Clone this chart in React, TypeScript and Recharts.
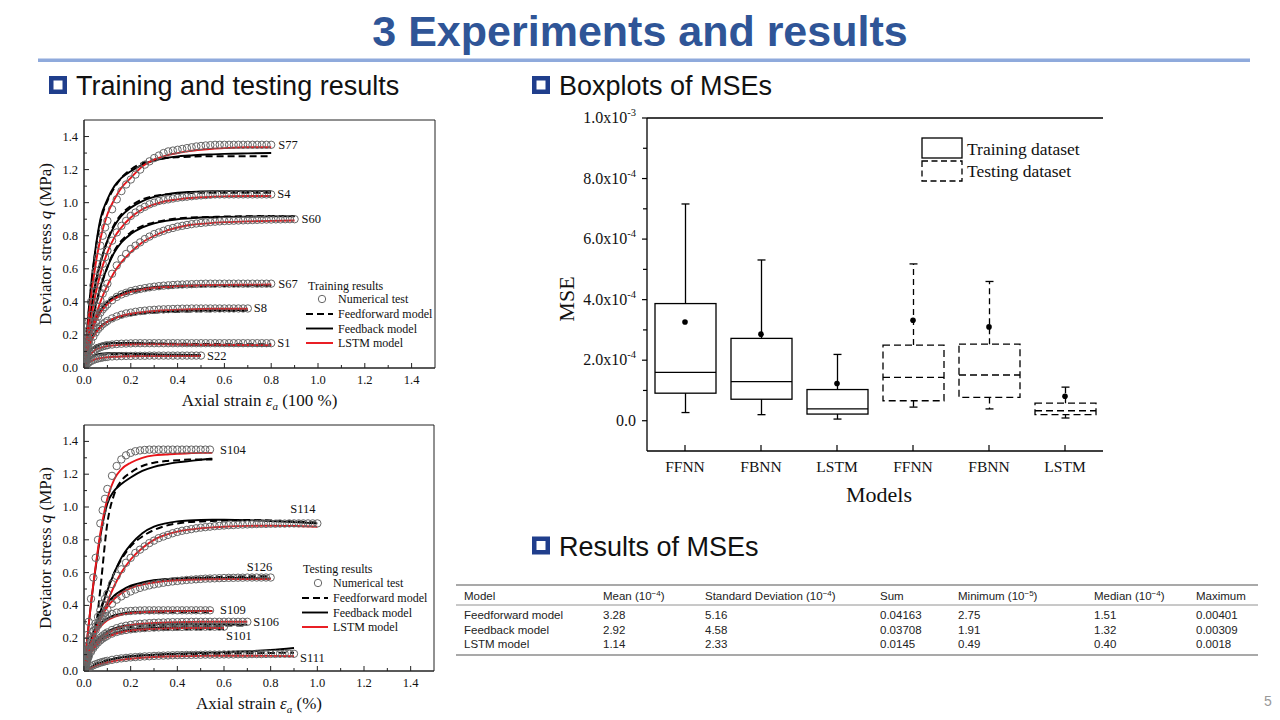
import React from 'react';
import { ComposedChart, Line, Scatter, Bar, XAxis, YAxis, ReferenceArea, ReferenceLine } from 'recharts';

const SERIF = "'Liberation Serif', 'Times New Roman', serif";
const SANS = "'Liberation Sans', Arial, sans-serif";

// ---------- strain grids ----------
const testStrain = [0, 0.005, 0.01, 0.015, 0.02, 0.03, 0.04, 0.05, 0.06, 0.07, 0.08, 0.09, 0.1, 0.12, 0.14, 0.16, 0.18, 0.2,
  0.22, 0.24, 0.26, 0.28, 0.3, 0.32, 0.34, 0.36, 0.38, 0.4, 0.42, 0.44, 0.46, 0.48, 0.5, 0.52, 0.54, 0.56, 0.58, 0.6,
  0.62, 0.64, 0.66, 0.68, 0.7, 0.72, 0.74, 0.76, 0.78, 0.8, 0.82, 0.84, 0.86, 0.88, 0.9, 0.92, 0.94, 0.96, 0.98, 1.0];
const lineStrain = [0, 0.01, 0.02, 0.03, 0.05, 0.07, 0.1, 0.13, 0.16, 0.2, 0.25, 0.3, 0.35, 0.4, 0.45, 0.5, 0.55, 0.6, 0.7, 0.8, 0.9, 1.0];

// ---------- training results ----------
const s77Test = [0, 0.07, 0.14, 0.21, 0.28, 0.40, 0.50, 0.59, 0.67, 0.74, 0.80, 0.85, 0.89, 0.96, 1.02, 1.07, 1.11, 1.14, 1.17, 1.20, 1.23, 1.25, 1.27, 1.285, 1.30, 1.31, 1.315, 1.32, 1.325, 1.33, 1.335, 1.34, 1.343, 1.346, 1.348, 1.35, 1.35, 1.35, 1.35, 1.35, 1.35, 1.35, 1.35, 1.35, 1.35, 1.35, 1.35, 1.35];
const s77FF = [0, 0.17, 0.33, 0.48, 0.72, 0.88, 1.01, 1.09, 1.15, 1.2, 1.24, 1.26, 1.27, 1.275, 1.278, 1.28, 1.28, 1.28, 1.28, 1.28];
const s77FB = [0, 0.18, 0.35, 0.5, 0.73, 0.9, 1.02, 1.1, 1.15, 1.19, 1.23, 1.255, 1.27, 1.28, 1.285, 1.29, 1.292, 1.295, 1.298, 1.30];
const s77LSTM = [0, 0.15, 0.3, 0.43, 0.63, 0.78, 0.93, 1.02, 1.09, 1.15, 1.22, 1.26, 1.285, 1.30, 1.312, 1.32, 1.326, 1.33, 1.335, 1.335];

const s4Test = [0, 0.06, 0.12, 0.18, 0.23, 0.32, 0.40, 0.47, 0.53, 0.58, 0.63, 0.67, 0.71, 0.77, 0.82, 0.86, 0.89, 0.92, 0.94, 0.96, 0.975, 0.99, 1.00, 1.01, 1.015, 1.02, 1.025, 1.03, 1.033, 1.036, 1.039, 1.042, 1.044, 1.046, 1.048, 1.05, 1.05, 1.05, 1.05, 1.05, 1.05, 1.05, 1.05, 1.05, 1.05, 1.05, 1.05, 1.05];
const s4FF = [0, 0.12, 0.24, 0.34, 0.51, 0.63, 0.77, 0.87, 0.93, 0.98, 1.02, 1.04, 1.05, 1.055, 1.058, 1.06, 1.06, 1.06, 1.06, 1.06];
const s4FB = [0, 0.13, 0.25, 0.35, 0.52, 0.64, 0.77, 0.86, 0.92, 0.97, 1.01, 1.035, 1.05, 1.06, 1.065, 1.068, 1.07, 1.07, 1.07, 1.07];
const s4LSTM = [0, 0.11, 0.21, 0.30, 0.45, 0.57, 0.70, 0.79, 0.85, 0.91, 0.96, 0.99, 1.01, 1.02, 1.028, 1.033, 1.036, 1.038, 1.04, 1.04];

const s60Test = [0, 0.04, 0.08, 0.12, 0.15, 0.21, 0.27, 0.32, 0.37, 0.41, 0.45, 0.48, 0.51, 0.57, 0.62, 0.66, 0.69, 0.72, 0.74, 0.76, 0.78, 0.795, 0.81, 0.82, 0.83, 0.84, 0.847, 0.855, 0.86, 0.865, 0.87, 0.874, 0.877, 0.88, 0.883, 0.885, 0.887, 0.889, 0.89, 0.891, 0.892, 0.893, 0.894, 0.895, 0.896, 0.897, 0.898, 0.898, 0.899, 0.899, 0.9, 0.9, 0.9];
const s60FF = [0, 0.08, 0.16, 0.24, 0.37, 0.48, 0.61, 0.71, 0.77, 0.82, 0.86, 0.88, 0.895, 0.905, 0.91, 0.912, 0.914, 0.916, 0.918, 0.92, 0.92];
const s60FB = [0, 0.09, 0.17, 0.25, 0.38, 0.49, 0.61, 0.70, 0.76, 0.81, 0.85, 0.875, 0.89, 0.9, 0.905, 0.91, 0.912, 0.914, 0.916, 0.917, 0.918];
const s60LSTM = [0, 0.07, 0.14, 0.2, 0.31, 0.4, 0.5, 0.58, 0.64, 0.7, 0.76, 0.8, 0.83, 0.85, 0.865, 0.872, 0.878, 0.882, 0.887, 0.89, 0.892];

const s67Test = [0, 0.05, 0.09, 0.13, 0.16, 0.21, 0.25, 0.28, 0.31, 0.335, 0.355, 0.37, 0.385, 0.41, 0.43, 0.445, 0.455, 0.465, 0.472, 0.478, 0.483, 0.488, 0.492, 0.495, 0.498, 0.50, 0.502, 0.504, 0.505, 0.506, 0.507, 0.508, 0.509, 0.51, 0.51, 0.51, 0.51, 0.51, 0.51, 0.51, 0.51, 0.51, 0.51, 0.51, 0.51, 0.51, 0.51, 0.51];
const s67FF = [0, 0.09, 0.16, 0.21, 0.29, 0.34, 0.39, 0.42, 0.44, 0.455, 0.47, 0.48, 0.485, 0.49, 0.492, 0.494, 0.495, 0.496, 0.497, 0.497];
const s67FB = [0, 0.1, 0.17, 0.22, 0.3, 0.35, 0.4, 0.43, 0.45, 0.47, 0.48, 0.49, 0.495, 0.498, 0.5, 0.5, 0.5, 0.5, 0.5, 0.5];
const s67LSTM = [0, 0.09, 0.16, 0.21, 0.28, 0.335, 0.385, 0.42, 0.44, 0.46, 0.475, 0.485, 0.49, 0.495, 0.498, 0.5, 0.502, 0.503, 0.504, 0.505];

const s8Test = [0, 0.04, 0.07, 0.1, 0.12, 0.16, 0.19, 0.215, 0.235, 0.25, 0.265, 0.275, 0.285, 0.30, 0.312, 0.322, 0.33, 0.335, 0.34, 0.344, 0.347, 0.35, 0.352, 0.354, 0.355, 0.356, 0.357, 0.358, 0.359, 0.359, 0.36, 0.36, 0.36, 0.36, 0.36, 0.36, 0.36, 0.36, 0.36, 0.36, 0.36, 0.36, 0.36];
const s8FF = [0, 0.08, 0.13, 0.17, 0.22, 0.25, 0.28, 0.295, 0.31, 0.32, 0.33, 0.335, 0.338, 0.34, 0.342, 0.343, 0.344, 0.345, 0.345];
const s8FB = [0, 0.08, 0.13, 0.17, 0.22, 0.25, 0.28, 0.3, 0.315, 0.325, 0.335, 0.34, 0.343, 0.345, 0.347, 0.348, 0.349, 0.35, 0.35];
const s8LSTM = [0, 0.07, 0.12, 0.16, 0.21, 0.245, 0.28, 0.3, 0.315, 0.328, 0.338, 0.345, 0.35, 0.353, 0.355, 0.357, 0.358, 0.358, 0.358];

const s1Test = [0, 0.025, 0.045, 0.06, 0.072, 0.09, 0.103, 0.112, 0.12, 0.126, 0.131, 0.135, 0.138, 0.142, 0.145, 0.147, 0.148, 0.149, 0.15, 0.15, 0.15, 0.15, 0.15, 0.15, 0.15, 0.15, 0.15, 0.15, 0.15, 0.15, 0.15, 0.15, 0.15, 0.15, 0.15, 0.15, 0.15, 0.15, 0.15, 0.15, 0.15, 0.15, 0.15, 0.15, 0.15, 0.15, 0.15, 0.15];
const s1FF = [0, 0.045, 0.08, 0.1, 0.125, 0.138, 0.146, 0.15, 0.151, 0.151, 0.15, 0.149, 0.148, 0.147, 0.146, 0.145, 0.145, 0.144, 0.144, 0.143];
const s1FB = [0, 0.05, 0.085, 0.11, 0.135, 0.145, 0.15, 0.152, 0.152, 0.151, 0.149, 0.147, 0.145, 0.143, 0.141, 0.14, 0.139, 0.138, 0.136, 0.134];
const s1LSTM = [0, 0.035, 0.065, 0.085, 0.11, 0.122, 0.132, 0.137, 0.14, 0.142, 0.143, 0.143, 0.143, 0.142, 0.142, 0.141, 0.141, 0.14, 0.139, 0.138];

const s22Test = [0, 0.012, 0.02, 0.027, 0.033, 0.042, 0.049, 0.054, 0.058, 0.061, 0.064, 0.066, 0.067, 0.07, 0.071, 0.072, 0.073, 0.073, 0.074, 0.074, 0.074, 0.075, 0.075, 0.075, 0.075, 0.075, 0.075, 0.075, 0.075, 0.075, 0.075, 0.075, 0.075];
const s22FF = [0, 0.03, 0.05, 0.062, 0.075, 0.08, 0.083, 0.083, 0.082, 0.08, 0.079, 0.078, 0.077, 0.077, 0.076, 0.076];
const s22FB = [0, 0.03, 0.05, 0.065, 0.08, 0.086, 0.09, 0.09, 0.089, 0.087, 0.085, 0.083, 0.081, 0.08, 0.079, 0.078];
const s22LSTM = [0, 0.02, 0.033, 0.042, 0.054, 0.06, 0.065, 0.068, 0.07, 0.071, 0.072, 0.072, 0.072, 0.072, 0.072, 0.072];

// ---------- testing results ----------
const s104Test = [0, 0.08, 0.15, 0.22, 0.3, 0.44, 0.57, 0.69, 0.8, 0.9, 0.98, 1.05, 1.11, 1.19, 1.25, 1.29, 1.315, 1.33, 1.34, 1.345, 1.348, 1.35, 1.35, 1.35, 1.35, 1.35, 1.35, 1.35, 1.35, 1.35, 1.35, 1.35, 1.35, 1.35, 1.35];
const s104FF = [0, 0.02, 0.05, 0.09, 0.25, 0.5, 0.9, 1.08, 1.16, 1.21, 1.25, 1.27, 1.28, 1.285, 1.29, 1.29, 1.29];
const s104FB = [0, 0.14, 0.28, 0.41, 0.63, 0.82, 1.02, 1.1, 1.14, 1.18, 1.22, 1.245, 1.26, 1.272, 1.28, 1.288, 1.295];
const s104LSTM = [0, 0.14, 0.28, 0.41, 0.64, 0.84, 1.05, 1.17, 1.23, 1.27, 1.3, 1.315, 1.32, 1.325, 1.328, 1.33, 1.33];

const s114Test = [0, 0.035, 0.07, 0.1, 0.13, 0.19, 0.24, 0.29, 0.33, 0.37, 0.41, 0.44, 0.47, 0.53, 0.58, 0.62, 0.66, 0.69, 0.72, 0.74, 0.76, 0.78, 0.795, 0.81, 0.82, 0.83, 0.84, 0.848, 0.855, 0.86, 0.865, 0.87, 0.874, 0.877, 0.88, 0.883, 0.885, 0.887, 0.889, 0.89, 0.892, 0.893, 0.894, 0.895, 0.896, 0.897, 0.897, 0.898, 0.898, 0.899, 0.899, 0.9, 0.9, 0.9, 0.9, 0.9, 0.9, 0.9];
const s114FF = [0, 0.06, 0.12, 0.17, 0.28, 0.37, 0.5, 0.6, 0.68, 0.76, 0.82, 0.86, 0.885, 0.9, 0.908, 0.912, 0.915, 0.917, 0.92, 0.918, 0.912, 0.905];
const s114FB = [0, 0.06, 0.12, 0.17, 0.27, 0.36, 0.49, 0.6, 0.69, 0.77, 0.84, 0.88, 0.9, 0.912, 0.918, 0.921, 0.922, 0.922, 0.92, 0.915, 0.908, 0.90];
const s114LSTM = [0, 0.05, 0.1, 0.14, 0.23, 0.31, 0.42, 0.52, 0.6, 0.68, 0.75, 0.8, 0.83, 0.85, 0.862, 0.87, 0.876, 0.88, 0.885, 0.886, 0.884, 0.88];

const s126Test = [0, 0.03, 0.06, 0.09, 0.12, 0.17, 0.21, 0.25, 0.28, 0.31, 0.335, 0.355, 0.375, 0.41, 0.435, 0.455, 0.47, 0.485, 0.497, 0.507, 0.515, 0.522, 0.528, 0.533, 0.538, 0.542, 0.546, 0.549, 0.552, 0.555, 0.557, 0.559, 0.561, 0.563, 0.564, 0.565, 0.566, 0.567, 0.568, 0.568, 0.569, 0.569, 0.57, 0.57, 0.57, 0.57, 0.57, 0.57];
const s126FF = [0, 0.07, 0.13, 0.18, 0.27, 0.34, 0.41, 0.455, 0.485, 0.515, 0.535, 0.55, 0.558, 0.563, 0.567, 0.57, 0.572, 0.574, 0.577, 0.578];
const s126FB = [0, 0.07, 0.13, 0.18, 0.27, 0.34, 0.41, 0.46, 0.49, 0.52, 0.54, 0.553, 0.56, 0.564, 0.566, 0.567, 0.568, 0.568, 0.567, 0.565];
const s126LSTM = [0, 0.06, 0.12, 0.17, 0.25, 0.32, 0.39, 0.44, 0.475, 0.505, 0.527, 0.54, 0.548, 0.553, 0.556, 0.558, 0.559, 0.56, 0.56, 0.56];

const s109Test = [0, 0.05, 0.09, 0.13, 0.16, 0.21, 0.245, 0.27, 0.29, 0.305, 0.318, 0.328, 0.336, 0.348, 0.356, 0.361, 0.364, 0.366, 0.368, 0.369, 0.37, 0.37, 0.37, 0.37, 0.37, 0.37, 0.37, 0.37, 0.37, 0.37, 0.37, 0.37, 0.37, 0.37, 0.37];
const s109FF = [0, 0.08, 0.14, 0.18, 0.24, 0.28, 0.315, 0.335, 0.345, 0.352, 0.355, 0.357, 0.358, 0.359, 0.36, 0.36, 0.36];
const s109FB = [0, 0.08, 0.14, 0.19, 0.25, 0.29, 0.32, 0.34, 0.35, 0.358, 0.362, 0.364, 0.365, 0.366, 0.366, 0.366, 0.366];
const s109LSTM = [0, 0.07, 0.13, 0.17, 0.23, 0.27, 0.31, 0.33, 0.343, 0.353, 0.359, 0.362, 0.364, 0.365, 0.365, 0.365, 0.365];

const s106Test = [0, 0.03, 0.055, 0.075, 0.095, 0.125, 0.15, 0.17, 0.188, 0.203, 0.215, 0.226, 0.235, 0.25, 0.261, 0.27, 0.276, 0.281, 0.285, 0.288, 0.29, 0.292, 0.294, 0.295, 0.296, 0.297, 0.298, 0.298, 0.299, 0.299, 0.3, 0.3, 0.3, 0.3, 0.3, 0.3, 0.3, 0.3, 0.3, 0.3, 0.3, 0.3, 0.3];
const s106FF = [0, 0.06, 0.1, 0.13, 0.17, 0.2, 0.23, 0.25, 0.26, 0.268, 0.273, 0.275, 0.276, 0.277, 0.277, 0.278, 0.278, 0.278, 0.278];
const s106FB = [0, 0.06, 0.1, 0.13, 0.18, 0.21, 0.24, 0.26, 0.272, 0.28, 0.285, 0.287, 0.288, 0.288, 0.288, 0.287, 0.286, 0.285, 0.283];
const s106LSTM = [0, 0.05, 0.09, 0.12, 0.165, 0.198, 0.23, 0.252, 0.267, 0.28, 0.288, 0.293, 0.296, 0.298, 0.299, 0.3, 0.3, 0.3, 0.3];

const s101Test = [0, 0.025, 0.05, 0.07, 0.088, 0.117, 0.14, 0.158, 0.174, 0.187, 0.198, 0.207, 0.215, 0.228, 0.238, 0.245, 0.25, 0.254, 0.257, 0.26, 0.262, 0.264, 0.265, 0.266, 0.267, 0.268, 0.268, 0.269, 0.269, 0.27, 0.27, 0.27, 0.27, 0.27, 0.27, 0.27, 0.27, 0.27];
const s101FF = [0, 0.05, 0.09, 0.12, 0.16, 0.185, 0.21, 0.225, 0.235, 0.243, 0.248, 0.251, 0.253, 0.254, 0.255, 0.255, 0.256, 0.256];
const s101FB = [0, 0.05, 0.09, 0.12, 0.16, 0.19, 0.215, 0.232, 0.243, 0.252, 0.258, 0.262, 0.264, 0.265, 0.266, 0.266, 0.266, 0.266];
const s101LSTM = [0, 0.045, 0.08, 0.11, 0.15, 0.18, 0.206, 0.224, 0.236, 0.246, 0.253, 0.257, 0.26, 0.261, 0.262, 0.262, 0.262, 0.262];

const s111Test = [0, 0.005, 0.01, 0.015, 0.02, 0.028, 0.035, 0.041, 0.046, 0.051, 0.055, 0.059, 0.062, 0.068, 0.073, 0.077, 0.08, 0.083, 0.085, 0.087, 0.089, 0.09, 0.092, 0.093, 0.094, 0.095, 0.096, 0.097, 0.097, 0.098, 0.098, 0.099, 0.099, 0.1, 0.1, 0.1, 0.1, 0.101, 0.101, 0.101, 0.102, 0.102, 0.102, 0.103, 0.103, 0.103, 0.104, 0.104, 0.104, 0.105, 0.105, 0.105, 0.105];
const s111FF = [0, 0.01, 0.02, 0.028, 0.042, 0.053, 0.066, 0.076, 0.083, 0.089, 0.094, 0.097, 0.1, 0.102, 0.103, 0.104, 0.105, 0.106, 0.108, 0.11, 0.112];
const s111FB = [0, 0.008, 0.016, 0.024, 0.038, 0.05, 0.064, 0.075, 0.083, 0.09, 0.096, 0.1, 0.103, 0.106, 0.108, 0.11, 0.112, 0.115, 0.12, 0.128, 0.14];
const s111LSTM = [0, 0.006, 0.012, 0.018, 0.03, 0.04, 0.052, 0.061, 0.068, 0.075, 0.081, 0.085, 0.088, 0.09, 0.091, 0.092, 0.093, 0.093, 0.093, 0.092, 0.09];

// ---------- axis ticks ----------
const strainTicks = [0, 0.1, 0.2, 0.3, 0.4, 0.5, 0.6, 0.7, 0.8, 0.9, 1.0, 1.1, 1.2, 1.3, 1.4];
const stressTicks = [0, 0.1, 0.2, 0.3, 0.4, 0.5, 0.6, 0.7, 0.8, 0.9, 1.0, 1.1, 1.2, 1.3, 1.4];

// ---------- boxplot (MSE in units of 1e-4) ----------
const boxModels = ['FFNN', 'FBNN', 'LSTM', 'FFNN', 'FBNN', 'LSTM'];
const boxGroup = ['Training', 'Training', 'Training', 'Testing', 'Testing', 'Testing'];
const boxMin = [0.27, 0.2, 0.055, 0.45, 0.39, 0.09];
const boxQ1 = [0.91, 0.71, 0.22, 0.66, 0.77, 0.2];
const boxMedian = [1.6, 1.29, 0.39, 1.43, 1.51, 0.33];
const boxQ3 = [3.87, 2.72, 1.03, 2.5, 2.53, 0.58];
const boxMax = [7.16, 5.31, 2.19, 5.18, 4.6, 1.11];
const boxMean = [3.26, 2.86, 1.23, 3.32, 3.1, 0.81];
const mseTicks = [0, 1, 2, 3, 4, 5, 6, 7, 8, 9, 10];

// ---------- table ----------
const tableHead = [['Model', ''], ['Mean', '−4'], ['Standard Deviation', '−4'], ['Sum', ''], ['Minimum', '−5'], ['Median', '−4'], ['Maximum', '']];
const tableModel = ['Feedforward model', 'Feedback model', 'LSTM model'];
const tableMean = ['3.28', '2.92', '1.14'];
const tableStd = ['5.16', '4.58', '2.33'];
const tableSum = ['0.04163', '0.03708', '0.0145'];
const tableMinimum = ['2.75', '1.91', '0.49'];
const tableMedian = ['1.51', '1.32', '0.40'];
const tableMaximum = ['0.00401', '0.00309', '0.0018'];

type Spec = { name: string; test: number[]; ff: number[]; fb: number[]; lstm: number[] };

const trainSpecs: Spec[] = [
  { name: 'S77', test: s77Test, ff: s77FF, fb: s77FB, lstm: s77LSTM },
  { name: 'S4', test: s4Test, ff: s4FF, fb: s4FB, lstm: s4LSTM },
  { name: 'S60', test: s60Test, ff: s60FF, fb: s60FB, lstm: s60LSTM },
  { name: 'S67', test: s67Test, ff: s67FF, fb: s67FB, lstm: s67LSTM },
  { name: 'S8', test: s8Test, ff: s8FF, fb: s8FB, lstm: s8LSTM },
  { name: 'S1', test: s1Test, ff: s1FF, fb: s1FB, lstm: s1LSTM },
  { name: 'S22', test: s22Test, ff: s22FF, fb: s22FB, lstm: s22LSTM },
];
const testSpecs: Spec[] = [
  { name: 'S104', test: s104Test, ff: s104FF, fb: s104FB, lstm: s104LSTM },
  { name: 'S114', test: s114Test, ff: s114FF, fb: s114FB, lstm: s114LSTM },
  { name: 'S126', test: s126Test, ff: s126FF, fb: s126FB, lstm: s126LSTM },
  { name: 'S109', test: s109Test, ff: s109FF, fb: s109FB, lstm: s109LSTM },
  { name: 'S106', test: s106Test, ff: s106FF, fb: s106FB, lstm: s106LSTM },
  { name: 'S101', test: s101Test, ff: s101FF, fb: s101FB, lstm: s101LSTM },
  { name: 'S111', test: s111Test, ff: s111FF, fb: s111FB, lstm: s111LSTM },
];
// pixel offsets of the specimen labels from the last test point
const trainLabelOffset = [[7, 0], [6, 0], [7, 0], [7, 0], [6, 0], [6, 0], [6, 0]];
const testLabelOffset = [[10, 0], [-27, -14], [-24, -11], [10, 0], [6, 0], [2, 9], [6, 4]];

const pts = (grid: number[], vals: number[]) => vals.map((v, i) => ({ x: grid[i], y: v }));
const isMajor = (v: number) => Math.round(v * 10) % 2 === 0;
const RED = '#e8141a';
const CIRCLE = '#666';

const StrainXTick = (p: any) => {
  const v = Number(p.payload.value);
  const major = isMajor(v);
  return (
    <g>
      <line x1={p.x} x2={p.x} y1={p.y} y2={p.y - (major ? 5 : 3)} stroke="#222" strokeWidth={1} />
      {major && (
        <text x={p.x} y={p.y + 12} textAnchor="middle" dominantBaseline="central" fontFamily={SERIF} fontSize={12.5} fill="#111">
          {v.toFixed(1)}
        </text>
      )}
    </g>
  );
};
const StressYTick = (p: any) => {
  const v = Number(p.payload.value);
  const major = isMajor(v);
  return (
    <g>
      <line x1={p.x} x2={p.x + (major ? 5 : 3)} y1={p.y} y2={p.y} stroke="#222" strokeWidth={1} />
      {major && (
        <text x={p.x - 6} y={p.y} textAnchor="end" dominantBaseline="central" fontFamily={SERIF} fontSize={12.5} fill="#111">
          {v.toFixed(1)}
        </text>
      )}
    </g>
  );
};
const TestCircle = (p: any) => <circle cx={p.cx} cy={p.cy} r={3.7} fill="none" stroke={CIRCLE} strokeWidth={1} />;

function StrainChart({ specs, offsets, marginRight, marginBottom }: { specs: Spec[]; offsets: number[][]; marginRight: number; marginBottom: number }) {
  const labels = specs.map((s, i) => ({ x: testStrain[s.test.length - 1], y: s.test[s.test.length - 1], name: s.name, i }));
  return (
    <ComposedChart width={420} height={300} margin={{ top: 10, right: marginRight, bottom: marginBottom, left: 14 }}>
      <XAxis type="number" dataKey="x" domain={[0, 1.5]} ticks={strainTicks} interval={0} tickSize={0} tickMargin={0} tickLine={false}
        tick={StrainXTick} height={40} axisLine={{ stroke: '#222' }} allowDataOverflow />
      <YAxis type="number" dataKey="y" domain={[0, 1.5]} ticks={stressTicks} interval={0} tickSize={0} tickMargin={0} tickLine={false}
        tick={StressYTick} width={40} axisLine={{ stroke: '#222' }} allowDataOverflow />
      <ReferenceArea x1={0} x2={1.5} y1={0} y2={1.5} fill="none" fillOpacity={0} stroke="#222" strokeWidth={1} />
      {specs.map((s) => (
        <Scatter key={s.name + '-t'} data={pts(testStrain, s.test)} dataKey="y" shape={TestCircle} isAnimationActive={false} />
      ))}
      {specs.map((s) => (
        <Line key={s.name + '-ff'} data={pts(lineStrain, s.ff)} dataKey="y" type="monotone" stroke="#000" strokeWidth={2}
          strokeDasharray="7 4" dot={false} activeDot={false} isAnimationActive={false} />
      ))}
      {specs.map((s) => (
        <Line key={s.name + '-fb'} data={pts(lineStrain, s.fb)} dataKey="y" type="monotone" stroke="#000" strokeWidth={1.9}
          dot={false} activeDot={false} isAnimationActive={false} />
      ))}
      {specs.map((s) => (
        <Line key={s.name + '-ls'} data={pts(lineStrain, s.lstm)} dataKey="y" type="monotone" stroke={RED} strokeWidth={1.9}
          dot={false} activeDot={false} isAnimationActive={false} />
      ))}
      <Scatter data={labels} dataKey="y" isAnimationActive={false}
        shape={(p: any) => {
          const o = offsets[p.payload.i];
          return (
            <text x={p.cx + o[0]} y={p.cy + o[1]} dominantBaseline="central" fontFamily={SERIF} fontSize={12.5} fill="#111">
              {p.payload.name}
            </text>
          );
        }} />
    </ComposedChart>
  );
}

const boxData = boxModels.map((m, i) => ({
  model: m, group: boxGroup[i], min: boxMin[i], q1: boxQ1[i], median: boxMedian[i], q3: boxQ3[i], max: boxMax[i], mean: boxMean[i],
  range: [boxQ1[i], boxQ3[i]],
}));

const BoxShape = (p: any) => {
  const d = p.payload;
  const dashed = d.group === 'Testing';
  const k = p.height / (d.q3 - d.q1);
  const py = (v: number) => p.y + (d.q3 - v) * k;
  const cx = p.x + p.width / 2;
  const dash = dashed ? '7 4' : undefined;
  const wdash = dashed ? '6 4' : undefined;
  return (
    <g fill="none" stroke="#000" strokeWidth={1.3}>
      <rect x={p.x} y={p.y} width={p.width} height={p.height} strokeDasharray={dash} />
      <line x1={p.x} x2={p.x + p.width} y1={py(d.median)} y2={py(d.median)} strokeDasharray={dash} />
      <line x1={cx} x2={cx} y1={py(d.q3)} y2={py(d.max)} strokeDasharray={wdash} />
      <line x1={cx} x2={cx} y1={py(d.q1)} y2={py(d.min)} strokeDasharray={wdash} />
      <line x1={cx - 4} x2={cx + 4} y1={py(d.max)} y2={py(d.max)} />
      <line x1={cx - 4} x2={cx + 4} y1={py(d.min)} y2={py(d.min)} />
    </g>
  );
};
const MeanDot = (p: any) => <circle cx={p.cx} cy={p.cy} r={2.8} fill="#000" />;

const MseYTick = (p: any) => {
  const v = Number(p.payload.value);
  const major = v % 2 === 0;
  let label: React.ReactNode = null;
  if (major) {
    if (v === 0) label = '0.0';
    else {
      const mant = v === 10 ? '1.0' : v.toFixed(1);
      const exp = v === 10 ? '-3' : '-4';
      label = [<tspan key="m">{mant + 'x10'}</tspan>, <tspan key="e" dy={-7} fontSize={10.5}>{exp}</tspan>];
    }
  }
  return (
    <g>
      <line x1={p.x} x2={p.x - (major ? 5 : 4)} y1={p.y} y2={p.y} stroke="#000" strokeWidth={1.2} />
      {major && (
        <text x={p.x - 11} y={p.y + 5} textAnchor="end" fontFamily={SERIF} fontSize={16} fill="#111">{label}</text>
      )}
    </g>
  );
};
const BoxXTick = (p: any) => (
  <g>
    <line x1={p.x} x2={p.x} y1={p.y} y2={p.y - 6} stroke="#000" strokeWidth={1.2} />
    <text x={p.x} y={p.y + 15.5} textAnchor="middle" dominantBaseline="central" fontFamily={SERIF} fontSize={15.5} fill="#111">
      {p.payload.value}
    </text>
  </g>
);

function BoxChart() {
  return (
    <ComposedChart width={580} height={410} data={boxData} margin={{ top: 18, right: 7, bottom: 0, left: 0 }}>
      <XAxis dataKey="model" type="category" interval={0} tickSize={0} tickMargin={0} tickLine={false} tick={BoxXTick}
        height={59} axisLine={{ stroke: '#000', strokeWidth: 1.3 }} allowDuplicatedCategory />
      <YAxis type="number" domain={[-1, 10]} ticks={mseTicks} interval={0} tickSize={0} tickMargin={0} tickLine={false}
        tick={MseYTick} width={117} axisLine={{ stroke: '#000', strokeWidth: 1.3 }} allowDataOverflow />
      <ReferenceLine y={10} stroke="#000" strokeWidth={1.3} />
      <Bar dataKey="range" barSize={61} shape={BoxShape} isAnimationActive={false} />
      <Scatter dataKey="mean" shape={MeanDot} isAnimationActive={false} />
    </ComposedChart>
  );
}

function Heading({ x, y, text }: { x: number; y: number; text: string }) {
  return (
    <g>
      <rect x={x + 2.25} y={y - 16.75} width={13.5} height={13.5} fill="none" stroke="#203E8C" strokeWidth={4.5} />
      <text x={x + 27} y={y} fontFamily={SANS} fontSize={27} fill="#111">{text}</text>
    </g>
  );
}

function Overlay() {
  const colX = [464, 603, 705, 880, 958, 1094, 1196];
  const rowY = [619, 633.5, 648];
  const rows = tableModel.map((m, i) => [m, tableMean[i], tableStd[i], tableSum[i], tableMinimum[i], tableMedian[i], tableMaximum[i]]);
  return (
    <svg width={1280} height={720} style={{ position: 'absolute', left: 0, top: 0 }}>
      <text x={640} y={46} textAnchor="middle" fontFamily={SANS} fontWeight="bold" fontSize={43} fill="#2F5597">3 Experiments and results</text>
      <rect x={38} y={58.5} width={1212} height={3.5} fill="#8FAADC" />
      <Heading x={49} y={95} text="Training and testing results" />
      <Heading x={532} y={95} text="Boxplots of MSEs" />
      <Heading x={532} y={555.5} text="Results of MSEs" />

      {/* strain chart axis titles */}
      <text transform="rotate(-90 51 244)" x={51} y={244} textAnchor="middle" fontFamily={SERIF} fontSize={17} fill="#111">
        <tspan>Deviator stress </tspan><tspan fontStyle="italic">q</tspan><tspan> (MPa)</tspan>
      </text>
      <text transform="rotate(-90 51 548)" x={51} y={548} textAnchor="middle" fontFamily={SERIF} fontSize={17} fill="#111">
        <tspan>Deviator stress </tspan><tspan fontStyle="italic">q</tspan><tspan> (MPa)</tspan>
      </text>
      <text x={259.5} y={406} textAnchor="middle" fontFamily={SERIF} fontSize={17} fill="#111">
        <tspan>Axial strain </tspan><tspan fontStyle="italic">ε</tspan><tspan fontStyle="italic" fontSize={11} dy={4}>a</tspan>
        <tspan dy={-4}> (100 %)</tspan>
      </text>
      <text x={259} y={709} textAnchor="middle" fontFamily={SERIF} fontSize={17} fill="#111">
        <tspan>Axial strain </tspan><tspan fontStyle="italic">ε</tspan><tspan fontStyle="italic" fontSize={11} dy={4}>a</tspan>
        <tspan dy={-4}> (%)</tspan>
      </text>

      {/* training legend */}
      <g fontFamily={SERIF} fontSize={12} fill="#111">
        <text x={308} y={290}>Training results</text>
        <circle cx={322} cy={299} r={3.7} fill="none" stroke={CIRCLE} strokeWidth={1} />
        <text x={338} y={303}>Numerical test</text>
        <line x1={306} x2={333} y1={314} y2={314} stroke="#000" strokeWidth={2} strokeDasharray="7 4" />
        <text x={338} y={318}>Feedforward model</text>
        <line x1={306} x2={333} y1={328.5} y2={328.5} stroke="#000" strokeWidth={1.9} />
        <text x={338} y={332.5}>Feedback model</text>
        <line x1={306} x2={333} y1={343} y2={343} stroke={RED} strokeWidth={1.9} />
        <text x={338} y={347}>LSTM model</text>
      </g>
      {/* testing legend */}
      <g fontFamily={SERIF} fontSize={12} fill="#111">
        <text x={303} y={573}>Testing results</text>
        <circle cx={318} cy={583} r={3.7} fill="none" stroke={CIRCLE} strokeWidth={1} />
        <text x={333} y={587}>Numerical test</text>
        <line x1={302} x2={328} y1={598} y2={598} stroke="#000" strokeWidth={2} strokeDasharray="7 4" />
        <text x={333} y={602}>Feedforward model</text>
        <line x1={302} x2={328} y1={612.5} y2={612.5} stroke="#000" strokeWidth={1.9} />
        <text x={333} y={616.5}>Feedback model</text>
        <line x1={302} x2={328} y1={627} y2={627} stroke={RED} strokeWidth={1.9} />
        <text x={333} y={631}>LSTM model</text>
      </g>

      {/* boxplot titles and legend */}
      <text transform="rotate(-90 574 299)" x={574} y={299} textAnchor="middle" fontFamily={SERIF} fontSize={22} fill="#111">MSE</text>
      <text x={879} y={502} textAnchor="middle" fontFamily={SERIF} fontSize={22} fill="#111">Models</text>
      <rect x={922} y={138} width={40} height={20} fill="none" stroke="#000" strokeWidth={1.3} />
      <rect x={922} y={161} width={40} height={20} fill="none" stroke="#000" strokeWidth={1.3} strokeDasharray="6 3.5" />
      <text x={967} y={154.5} fontFamily={SERIF} fontSize={17.5} fill="#111">Training dataset</text>
      <text x={967} y={176.5} fontFamily={SERIF} fontSize={17.5} fill="#111">Testing dataset</text>

      {/* table */}
      <line x1={456} x2={1258} y1={585} y2={585} stroke="#555" strokeWidth={1.2} />
      <line x1={456} x2={1258} y1={605} y2={605} stroke="#777" strokeWidth={0.8} />
      <line x1={456} x2={1258} y1={655} y2={655} stroke="#555" strokeWidth={1.2} />
      <g fontFamily={SANS} fontSize={11.5} fill="#222">
        {tableHead.map((h, i) => (
          <text key={'h' + i} x={colX[i]} y={600}>
            {h[1] ? (
              <>
                <tspan>{h[0] + ' (10'}</tspan>
                <tspan dy={-4} fontSize={8}>{h[1]}</tspan>
                <tspan dy={4}>)</tspan>
              </>
            ) : h[0]}
          </text>
        ))}
        {rows.map((r, ri) => r.map((c, ci) => (
          <text key={'c' + ri + '-' + ci} x={colX[ci]} y={rowY[ri]}>{c}</text>
        )))}
      </g>

      <text x={1268} y={706} textAnchor="middle" fontFamily={SANS} fontSize={14} fill="#999">5</text>
    </svg>
  );
}

export default function App() {
  return (
    <div style={{ position: 'absolute', left: 0, top: 0, width: 1280, height: 720, background: '#fff', overflow: 'hidden' }}>
      <Overlay />
      <div style={{ position: 'absolute', left: 30, top: 110 }}>
        <StrainChart specs={trainSpecs} offsets={trainLabelOffset} marginRight={15} marginBottom={2} />
      </div>
      <div style={{ position: 'absolute', left: 30, top: 415 }}>
        <StrainChart specs={testSpecs} offsets={testLabelOffset} marginRight={16} marginBottom={4} />
      </div>
      <div style={{ position: 'absolute', left: 530, top: 100 }}>
        <BoxChart />
      </div>
    </div>
  );
}
